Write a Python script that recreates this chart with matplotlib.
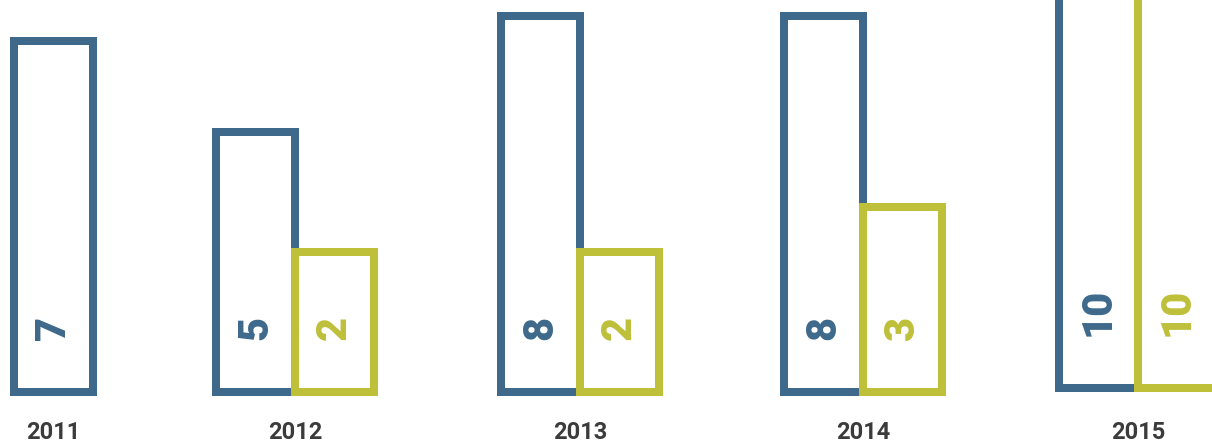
import numpy as np
import matplotlib
matplotlib.use("Agg")
import matplotlib.pyplot as plt

# data
years = ["2011", "2012", "2013", "2014", "2015"]
blue_vals = [7, 5, 8, 8, 10]
green_vals = [None, 2, 2, 3, 10]
# bar heights as drawn (the picture is not to scale with the labels)
blue_heights = [351, 260, 376, 376, 430]
green_heights = [0, 140, 140, 185, 430]

# layout
group_pos = [53, 295, 580, 863, 1138]
group_base = [0, 0, 0, 0, 4]   # last group sits a little higher
bar_w = 79
blue = "#3e698b"
green = "#bec03a"
lw = 8 * 72 / 100

fig = plt.figure(figsize=(12.12, 4.42), dpi=100)
ax = fig.add_axes([0, 0, 1, 1])
ax.set_xlim(0, 1212)
ax.set_ylim(-50, 392)
ax.axis("off")

for i, yr in enumerate(years):
    gx = group_pos[i]
    b0 = group_base[i]
    if green_vals[i] is None:
        bx = [gx]
    else:
        bx = [gx - bar_w / 2, gx + bar_w / 2]

    ax.bar(bx[0], blue_heights[i], width=bar_w, bottom=b0, fill=False, edgecolor=blue,
           linewidth=lw, joinstyle="miter", capstyle="projecting", clip_on=False)
    ax.text(bx[0], b0 + 52, str(blue_vals[i]), rotation=90, ha="center", va="bottom",
            color=blue, fontsize=30, fontweight="black", family="Roboto")

    if green_vals[i] is not None:
        ax.bar(bx[1], green_heights[i], width=bar_w, bottom=b0, fill=False, edgecolor=green,
               linewidth=lw, joinstyle="miter", capstyle="projecting", clip_on=False)
        ax.text(bx[1], b0 + 52, str(green_vals[i]), rotation=90, ha="center", va="bottom",
                color=green, fontsize=30, fontweight="black", family="Roboto")

    ax.text(gx, -47, yr, ha="center", va="baseline", color="#3b3b3b",
            fontsize=17, fontweight="bold", family="Roboto")

fig.savefig("out.png", dpi=100)
